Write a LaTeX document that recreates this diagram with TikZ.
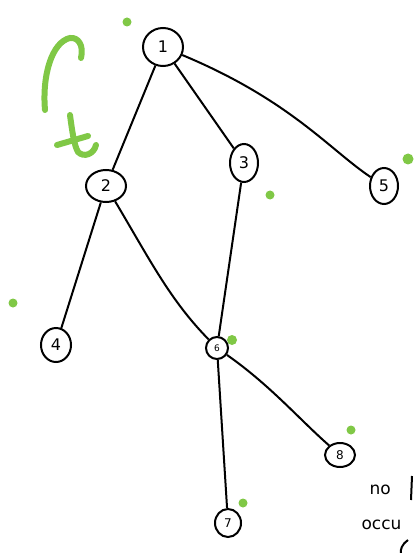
\documentclass[tikz,border=0pt]{standalone}
\usepackage{fontspec}
\setmainfont{DejaVu Sans}
\usetikzlibrary{shapes.geometric}
\definecolor{gr}{RGB}{128,200,70}
\begin{document}
\begin{tikzpicture}[x=1pt,y=-1pt,
  vtx/.style={draw,ellipse,line width=2pt,inner sep=0pt,font=\fontsize{16}{16}\selectfont},
  edge/.style={line width=2pt},
  gdot/.style={fill=gr,circle,inner sep=0pt,minimum size=9pt},
  ink/.style={font=\fontsize{17}{17}\selectfont}]
\useasboundingbox (0,0) rectangle (417,553);
\fill[white] (0,0) rectangle (417,553);
% vertices
\node[vtx,minimum width=40pt,minimum height=38pt] (n1) at (163,47) {1};
\node[vtx,minimum width=40pt,minimum height=32pt] (n2) at (106,186) {2};
\node[vtx,minimum width=28pt,minimum height=38pt] (n3) at (244,163) {3};
\node[vtx,minimum width=28pt,minimum height=36pt] (n5) at (384,186) {5};
\node[vtx,minimum width=30pt,minimum height=34pt] (n4) at (56,345) {4};
\node[vtx,minimum width=22pt,minimum height=22pt,font=\fontsize{9}{9}\selectfont] (n6) at (217,348) {6};
\node[vtx,minimum width=30pt,minimum height=24pt,font=\fontsize{12}{12}\selectfont] (n8) at (340,455) {8};
\node[vtx,minimum width=26pt,minimum height=28pt,font=\fontsize{12}{12}\selectfont] (n7) at (228,523) {7};
% edges
\draw[edge] (n1) -- (n2);
\draw[edge] (n1) -- (n3);
\draw[edge] (n1) .. controls (290,100) and (330,150) .. (n5);
\draw[edge] (n2) -- (n4);
\draw[edge] (n2) .. controls (150,260) and (170,300) .. (n6);
\draw[edge] (n3) -- (n6);
\draw[edge] (n6) -- (n7);
\draw[edge] (n6) .. controls (270,385) and (300,420) .. (n8);
% green annotations
\node[gdot] (d1) at (127,22) {};
\node[gdot,minimum size=11pt] (d2) at (408,159) {};
\node[gdot] (d3) at (270,195) {};
\node[gdot] (d4) at (13,303) {};
\node[gdot,minimum size=10pt] (d5) at (232,340) {};
\node[gdot] (d6) at (351,430) {};
\node[gdot] (d7) at (243,503) {};
\coordinate (a0) at (45,110);
\coordinate (a1) at (70,38);
\coordinate (a2) at (81,58);
\draw[gr,line width=6pt,line cap=round] (a0) .. controls (42,75) and (52,42) .. (a1) .. controls (78,37) and (84,45) .. (a2);
\draw[gr,line width=6pt,line cap=round] (70,115) .. controls (72,130) and (74,145) .. (78,152) .. controls (84,158) and (94,154) .. (96,145);
\draw[gr,line width=6pt,line cap=round] (57,145) -- (88,136);
% text at bottom right
\node[ink,anchor=west] (t1) at (366,490) {no};
\node[ink,anchor=west] (t2) at (358,525) {occu};
\draw[line width=2pt] (412,476) -- (411,500);
\draw[line width=2pt] (408,540) .. controls (402,544) and (400,550) .. (401,553);
\end{tikzpicture}
\end{document}
